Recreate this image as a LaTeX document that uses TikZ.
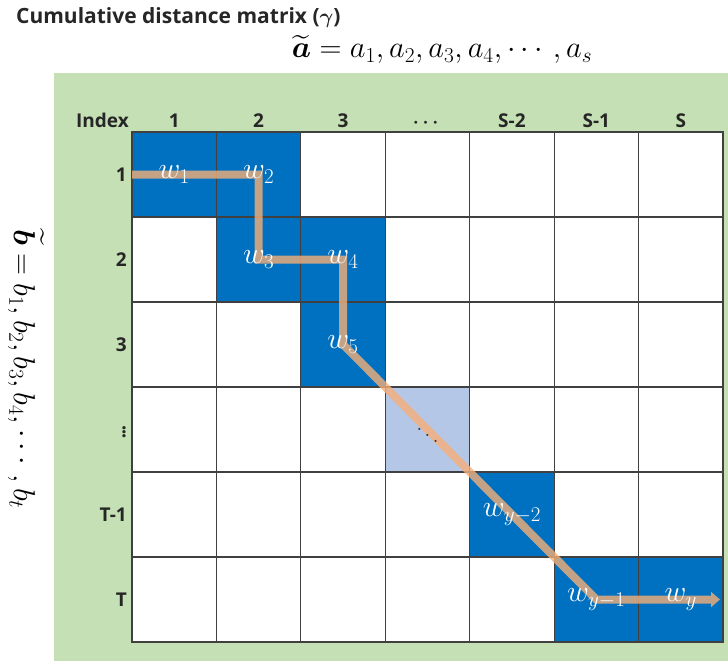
\RequirePackage{fix-cm}
\documentclass[tikz,border=0pt]{standalone}
\usepackage{amsmath,amssymb}
\usepackage{fontspec}
\newfontfamily\lblfont{Open Sans}
\usepackage{xcolor}
\usepackage{tikz}
\usetikzlibrary{arrows.meta,positioning}

\definecolor{pathblue}{RGB}{0,112,192}
\definecolor{gapblue}{RGB}{180,199,231}
\definecolor{panelgreen}{RGB}{197,224,180}
\definecolor{warpline}{RGB}{245,175,120}

\begin{document}
\begin{tikzpicture}[x=1pt,y=1pt,
    cell/.style={minimum width=84.43pt,minimum height=85pt,inner sep=0pt,outer sep=0pt},
    gridline/.style={draw=black!75,line width=1.2pt},
    idx/.style={font=\lblfont\bfseries\fontsize{19}{19}\selectfont,text=black!85,inner sep=1pt},
    fml/.style={font=\fontsize{29}{29}\selectfont,inner sep=0pt,scale=1.05,transform shape},
    wlab/.style={text=white,font=\fontsize{25}{25}\selectfont,inner sep=0pt,scale=1.2,transform shape},
    warp/.style={draw=warpline,line width=8pt,-{Triangle[width=15pt,length=9pt]},shorten >=3pt}]
  \useasboundingbox (0,0) rectangle (728,-661);
  \fill[panelgreen] (54,-73) rectangle (728,-661);
  % cells of the matrix
  \foreach \r in {1,...,6}
    \foreach \c in {1,...,7}
      \node[cell] (c\r\c) at ({132+(\c-0.5)*84.43},{-132-(\r-0.5)*85}) {};
  \fill[white] (c11.north west) rectangle (c67.south east);
  \foreach \cc in {c11,c12,c22,c23,c33,c55,c66,c67}
    \fill[pathblue] (\cc.south west) rectangle (\cc.north east);
  \fill[gapblue] (c44.south west) rectangle (c44.north east);
  \draw[gridline] (c11.north west) rectangle (c67.south east);
  \foreach \c in {1,...,6} \draw[gridline] (c1\c.north east) -- (c6\c.south east);
  \foreach \r in {1,...,5} \draw[gridline] (c\r1.south west) -- (c\r7.south east);
  % warping path
  \begin{scope}[transparency group,opacity=0.8]
    \draw[warp] (c11.west) -- (c12.center) -- (c22.center) -- (c23.center)
      -- (c33.center) -- (c66.center) -- (c67.east);
  \end{scope}
  \node[wlab] (w1) at (c11) {$w_1$};
  \node[wlab] (w2) at (c12) {$w_2$};
  \node[wlab] (w3) at (c22) {$w_3$};
  \node[wlab] (w4) at (c23) {$w_4$};
  \node[wlab] (w5) at (c33) {$w_5$};
  \node[text=black!80,inner sep=0pt,scale=2,transform shape] (wdots) at (c44) {$\boldsymbol{\ddots}$};
  \node[wlab] (wy2) at (c55) {$w_{y-2}$};
  \node[wlab] (wy1) at (c66) {$w_{y-1}$};
  \node[wlab] (wy) at (c67) {$w_y$};
  % indices
  \foreach \c/\t in {1/1,2/2,3/3,4/{$\boldsymbol{\cdots}$},5/S-2,6/S-1,7/S}
    \node[idx,above=5pt of c1\c.north,anchor=base] (h\c) {\t};
  \foreach \r/\t in {1/1,2/2,3/3,4/{$\boldsymbol{\vdots}$},5/T-1,6/T}
    \node[idx,left=4pt of c\r1.west] (v\r) {\t};
  \node[idx,above left=5pt and 2pt of c11.north west,anchor=base east] (index) {Index};
  % titles
  \node[idx,font=\lblfont\bfseries\fontsize{21}{21}\selectfont,anchor=base west] (title) at (15,-24)
       {Cumulative distance matrix ($\boldsymbol{\gamma}$)};
  \node[fml,anchor=base] (seqa) at (442,-58)
       {$\widetilde{\boldsymbol{a}} = a_1, a_2, a_3, a_4, \cdots, a_s$};
  \node[fml,rotate=-90] (seqb) at (26,-369)
       {$\widetilde{\boldsymbol{b}} = b_1, b_2, b_3, b_4, \cdots, b_t$};
\end{tikzpicture}
\end{document}
